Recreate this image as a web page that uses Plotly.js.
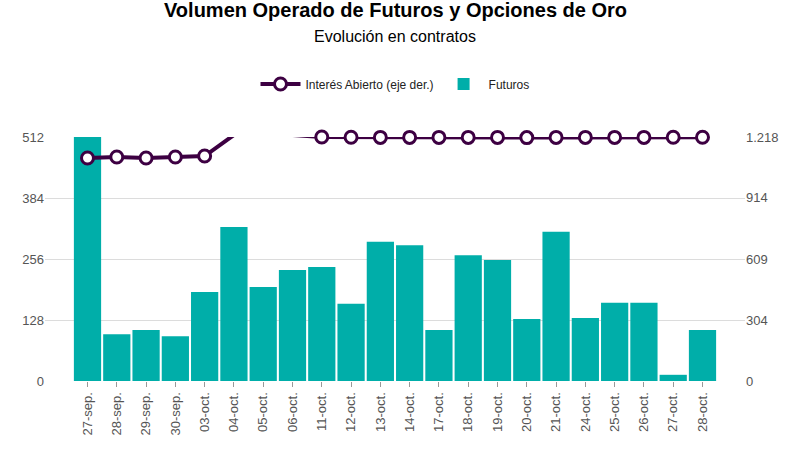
<!DOCTYPE html>
<html>
<head>
<meta charset="utf-8">
<script src="https://cdn.plot.ly/plotly-3.0.1.min.js"></script>
<style>html,body{margin:0;padding:0;background:#fff}</style>
</head>
<body>
<div id="chart" style="width:800px;height:457px"></div>
<script>
"use strict";
const dates = ["27-sep.","28-sep.","29-sep.","30-sep.","03-oct.","04-oct.","05-oct.","06-oct.","11-oct.","12-oct.","13-oct.","14-oct.","17-oct.","18-oct.","19-oct.","20-oct.","21-oct.","24-oct.","25-oct.","26-oct.","27-oct.","28-oct."];
const futuros = [515,98,107,94,187,323,197,233,239,162,292,285,107,264,254,130,313,132,164,164,13,107];
const interesAbierto = [1113,1118,1113,1118,1123,1228,1228,1228,1218,1217,1216,1216,1216,1216,1216,1215,1216,1216,1216,1216,1217,1217];

const data = [
  {
    type: "scatter", mode: "lines+markers", name: "Interés Abierto (eje der.)",
    x: dates, y: interesAbierto, yaxis: "y2", cliponaxis: false,
    line: {color: "#3d0042", width: 4},
    marker: {size: 12, color: "#ffffff", line: {color: "#3d0042", width: 3}}
  },
  {
    type: "bar", name: "Futuros", x: dates, y: futuros, cliponaxis: false,
    marker: {color: "#00aea9"}
  }
];

const layout = {
  width: 800, height: 457,
  margin: {l: 45, r: 55, t: 137, b: 76},
  font: {family: "Liberation Sans, Arial", size: 13, color: "#555"},
  bargap: 0.07,
  showlegend: true,
  legend: {orientation: "h", x: 0.5, xanchor: "center", y: 1.217, yanchor: "middle",
    font: {size: 12, color: "#222"}, traceorder: "normal", itemwidth: 40},
  annotations: [
    {text: "<b>Volumen Operado de Futuros y Opciones de Oro</b>", xref: "paper", yref: "paper",
      x: 0.5, y: 1.52, xanchor: "center", yanchor: "middle", showarrow: false,
      font: {size: 20, color: "#000"}},
    {text: "Evolución en contratos", xref: "paper", yref: "paper",
      x: 0.5, y: 1.41, xanchor: "center", yanchor: "middle", showarrow: false,
      font: {size: 16, color: "#000"}}
  ],
  xaxis: {tickangle: -90, showgrid: false, ticks: "outside", ticklen: 5, tickcolor: "#999", showline: false, automargin: false},
  yaxis: {range: [0, 512], tickvals: [0,128,256,384,512], gridcolor: "#dcdcdc", zeroline: false, automargin: false},
  yaxis2: {overlaying: "y", side: "right", range: [0, 1218], tickvals: [0,304,609,914,1218],
    ticktext: ["0","304","609","914","1.218"], showgrid: false, zeroline: false, automargin: false},
  plot_bgcolor: "#fff", paper_bgcolor: "#fff"
};

Plotly.newPlot("chart", data, layout, {displayModeBar: false});
</script>
</body>
</html>
